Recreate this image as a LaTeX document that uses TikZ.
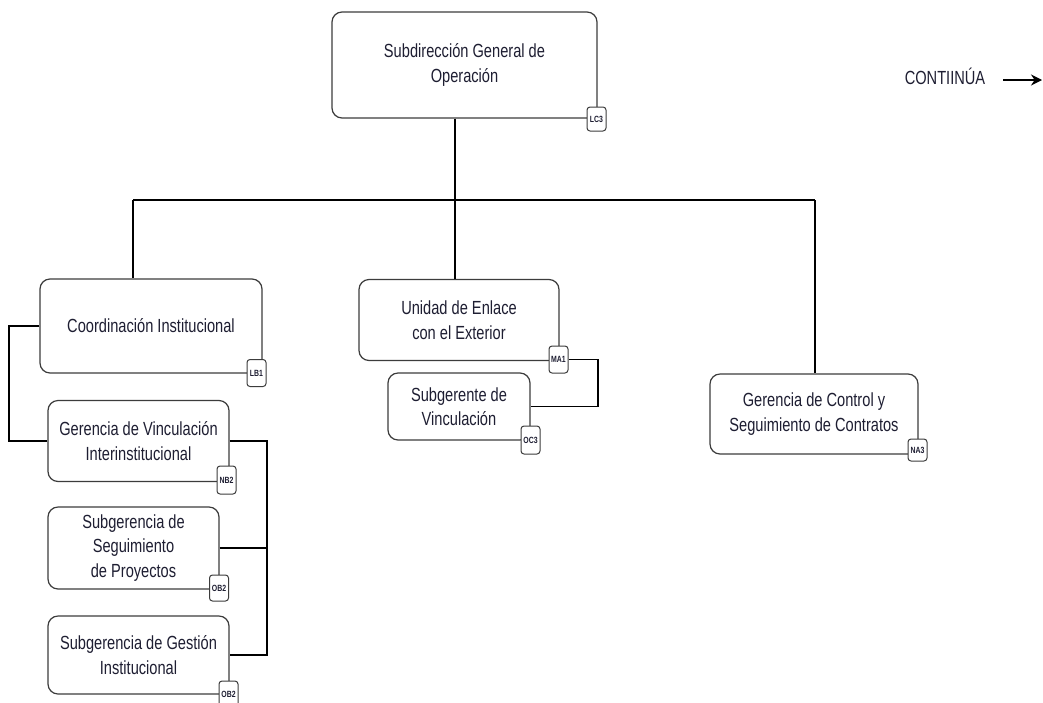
\documentclass[tikz,border=0pt]{standalone}
\usepackage{fontspec}
\newfontfamily\narrowfont[FakeStretch=0.77]{Liberation Sans}
\usetikzlibrary{arrows.meta}
\definecolor{boxline}{RGB}{60,60,60}
\definecolor{txt}{RGB}{30,30,50}
\tikzset{
  unitbox/.style={draw=boxline, line width=1.2pt, rounded corners=10pt, fill=white,
    align=center, inner sep=0pt, text=txt,
    font=\narrowfont\fontsize{19}{24.5}\selectfont},
  badge/.style={draw=boxline, line width=1pt, rounded corners=3pt, fill=white,
    inner sep=0pt, minimum width=19pt, text=txt,
    font=\narrowfont\fontsize{9}{10}\selectfont\bfseries},
  conn/.style={draw=black, line width=1.3pt},
}
\begin{document}
\begin{tikzpicture}[x=1pt,y=-1pt]
\useasboundingbox (0,0) rectangle (1043,702);
\fill[white] (0,0) rectangle (1043,702);

% boxes
\node[unitbox, minimum width=265pt, minimum height=106pt] (sub) at (464.5,65) {Subdirección General de\\Operación};
\node[unitbox, minimum width=222pt, minimum height=94pt] (coord) at (151,326) {Coordinación Institucional};
\node[unitbox, minimum width=200pt, minimum height=81pt] (uni) at (459,320) {Unidad de Enlace\\con el Exterior};
\node[unitbox, minimum width=142pt, minimum height=67pt] (sv) at (459,406.5) {Subgerente de\\Vinculación};
\node[unitbox, minimum width=208pt, minimum height=80pt] (ctl) at (814,414) {Gerencia de Control y\\Seguimiento de Contratos};
\node[unitbox, minimum width=181pt, minimum height=81pt] (gv) at (138.5,441) {Gerencia de Vinculación\\Interinstitucional};
\node[unitbox, minimum width=171pt, minimum height=82pt] (seg) at (133.5,548) {Subgerencia de\\Seguimiento\\de Proyectos};
\node[unitbox, minimum width=181pt, minimum height=78pt] (gest) at (138.5,655) {Subgerencia de Gestión\\Institucional};

% connectors
\coordinate (j0) at (455,200);
\coordinate (jl) at (133,200);
\coordinate (jr) at (815,200);
\coordinate (lx) at (9,0);
\coordinate (rx) at (267,0);
\coordinate (ux) at (598,0);
\draw[conn] (j0 |- sub.south) -- (j0);
\draw[conn] (jl) -- (jr);
\draw[conn] (jl) -- (jl |- coord.north);
\draw[conn] (j0) -- (j0 |- uni.north);
\draw[conn] (jr) -- (jr |- ctl.north);
\draw[conn] (coord.west) -- (coord.west -| lx) |- (gv.west);
\draw[conn] (gv.east) -- (gv.east -| rx) |- (gest.east);
\draw[conn] (seg.east) -- (seg.east -| rx);

% badges
\node[badge, minimum height=24pt] (lc3) at (596.5,119) {LC3};
\node[badge, minimum height=27pt] (lb1) at (256.5,373) {LB1};
\node[badge, minimum height=27pt] (ma1) at (558.5,359.5) {MA1};
\node[badge, minimum height=28pt] (oc3) at (530.5,440) {OC3};
\node[badge, minimum height=22pt] (na3) at (917.5,450) {NA3};
\node[badge, minimum height=28pt] (nb2) at (226.5,480) {NB2};
\node[badge, minimum height=26pt] (ob2a) at (219,588) {OB2};
\node[badge, minimum height=26pt] (ob2b) at (228.5,694) {OB2};

\draw[conn] (ma1.east) -- (ma1.east -| ux) |- (sv.east);

% continuation
\node[text=txt, font=\narrowfont\fontsize{19}{22}\selectfont, anchor=center] (cont) at (945,76) {CONTIINÚA};
\coordinate (a1) at (1003,80);
\coordinate (a2) at (1042,80);
\draw[line width=2pt, -{Stealth[length=11pt,width=11pt]}] (a1) -- (a2);
\end{tikzpicture}
\end{document}
